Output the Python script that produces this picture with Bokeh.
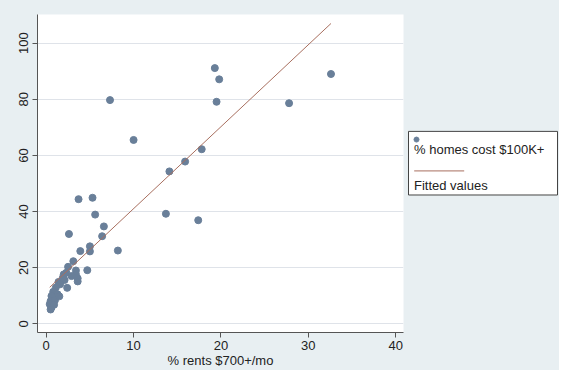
from bokeh.plotting import figure
from bokeh.layouts import row
from bokeh.models import Range1d, FixedTicker
from bokeh.embed import file_html
from bokeh.resources import INLINE
from bokeh.core.properties import value

# ---- data ----
rent_pct = [19.3, 19.8, 19.5, 27.8, 32.6, 17.8, 15.9, 14.1, 13.7, 17.4,
            3.7, 5.3, 5.6, 6.6, 2.6, 6.4, 5.0, 3.9, 5.0, 8.2,
            3.1, 4.7, 2.5, 3.4, 3.4, 3.6, 2.0, 2.1, 1.4, 1.6,
            1.1, 0.8, 1.3, 0.6, 0.5, 1.0, 0.4, 0.6, 2.3, 2.9,
            1.9, 0.9, 0.5, 1.5, 2.4, 3.6, 10.0, 7.3]
home_pct = [91.1, 87.1, 79.1, 78.6, 89.0, 62.2, 57.8, 54.3, 39.2, 36.9,
            44.4, 44.9, 38.9, 34.7, 32.0, 31.2, 27.6, 25.9, 25.8, 26.1,
            22.3, 19.1, 20.3, 19.0, 17.6, 16.2, 17.6, 15.6, 14.9, 14.1,
            12.9, 11.4, 10.5, 9.9, 8.1, 8.4, 7.0, 5.8, 18.2, 17.0,
            16.4, 6.8, 5.1, 9.8, 12.8, 15.1, 65.5, 79.7]
fit_x = [0.4, 32.6]
fit_y = [13.0, 107.0]
x_ticks = [0, 10, 20, 30, 40]
y_ticks = [0, 20, 40, 60, 80, 100]
x_title = "% rents $700+/mo"
series_label = "% homes cost $100K+"
fit_label = "Fitted values"

BG = "#e8eff2"
FONT = "Liberation Sans"
TXT = "#222222"
AX = "#555555"
MARK = "#697f99"
LINE = "#a86f5f"

p = figure(width=405, height=370, output_backend="svg", toolbar_location=None,
           x_range=Range1d(-1.0, 40.9), y_range=Range1d(-3.1, 110.2),
           min_border_left=37, min_border_right=2, min_border_top=14,
           min_border_bottom=36)
p.background_fill_color = "white"
p.border_fill_color = BG
p.outline_line_color = None
p.xgrid.visible = False
p.ygrid.ticker = FixedTicker(ticks=y_ticks)
p.ygrid.grid_line_color = "#dfe3e9"
p.ygrid.grid_line_width = 1

p.xaxis.ticker = FixedTicker(ticks=x_ticks)
p.yaxis.ticker = FixedTicker(ticks=y_ticks)
for ax in (p.xaxis[0], p.yaxis[0]):
    ax.axis_line_color = AX
    ax.major_tick_line_color = AX
    ax.minor_tick_line_color = None
    ax.major_tick_out = 5
    ax.major_tick_in = 0
    ax.major_label_text_font = FONT
    ax.major_label_text_font_size = "13px"
    ax.major_label_text_color = TXT
    ax.axis_label_text_font = FONT
    ax.axis_label_text_font_size = "13px"
    ax.axis_label_text_font_style = "normal"
    ax.axis_label_text_color = TXT
p.yaxis.major_label_orientation = "vertical"
p.yaxis.major_label_standoff = 4
p.xaxis.major_label_standoff = 3
p.xaxis.axis_label = x_title
p.xaxis.axis_label_standoff = 0

p.scatter(rent_pct, home_pct, size=7, fill_color=MARK, line_color=MARK)
p.line(fit_x, fit_y, line_color=LINE, line_width=1)

# ---- legend panel ----
lg = figure(width=154, height=370, output_backend="svg", toolbar_location=None,
            x_range=Range1d(0, 154), y_range=Range1d(370, 0),
            x_axis_type=None, y_axis_type=None, min_border=0)
lg.background_fill_color = BG
lg.border_fill_color = BG
lg.outline_line_color = None

lg.quad(left=[3], right=[152], top=[136], bottom=[210],
        fill_color="white", line_color="#444444", line_width=1)
lg.scatter([11], [145.5], size=5, fill_color=MARK, line_color=MARK)
lg.line([8.7, 58.7], [182, 182], line_color=LINE, line_width=1)
lg.text([8.5, 8.5], [157.5, 199.5], text=[series_label, fit_label],
        text_font=value(FONT), text_font_size=value("13px"),
        text_color=TXT, text_baseline="middle", text_align="left")

layout = row(p, lg, styles={"background-color": BG})
open("out.html", "w").write(file_html(layout, INLINE))
